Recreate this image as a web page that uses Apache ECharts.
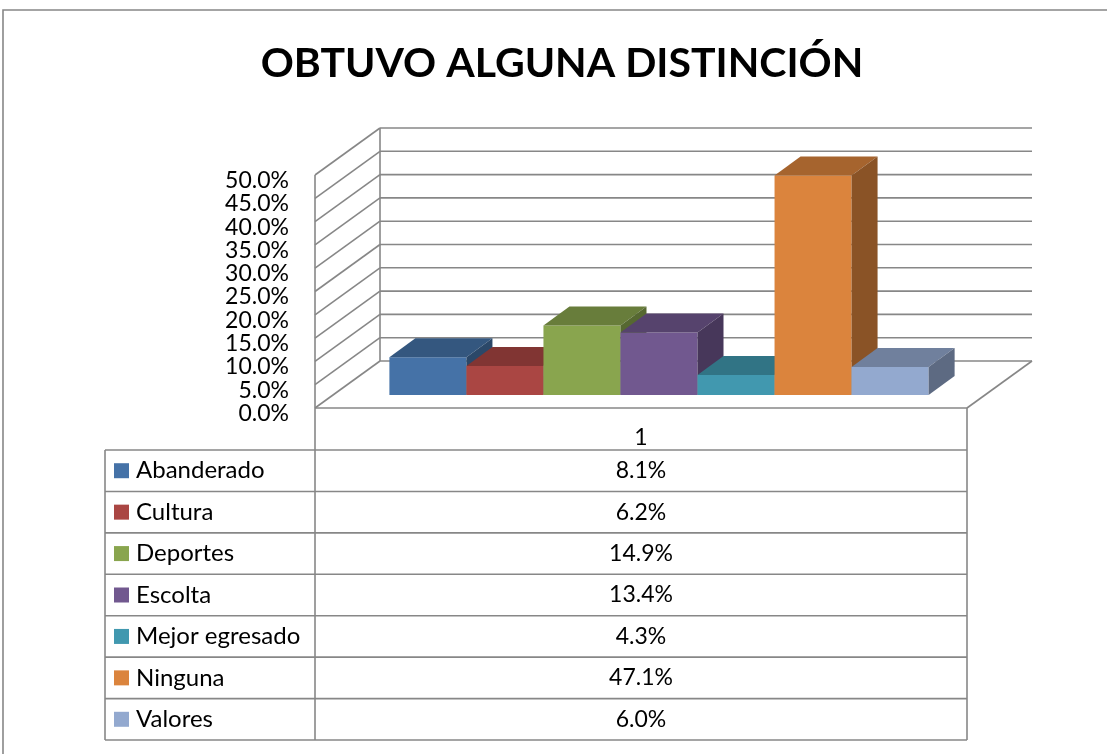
<!DOCTYPE html>
<html>
<head>
<meta charset="utf-8">
<title>Obtuvo alguna distinción</title>
<script src="https://cdn.jsdelivr.net/npm/echarts@6/dist/echarts.min.js"></script>
<style>
  html, body { margin: 0; padding: 0; background: #fff; }
  #main { width: 1107px; height: 754px; }
</style>
</head>
<body>
<div id="main"></div>
<script>
// datos del gráfico
const xLabels = ['1'];
const categories = ['Abanderado', 'Cultura', 'Deportes', 'Escolta', 'Mejor egresado', 'Ninguna', 'Valores'];
const values = [0.081, 0.062, 0.149, 0.134, 0.043, 0.471, 0.060];
const colors = ['#4572A7', '#AA4643', '#89A54E', '#71588F', '#4198AF', '#DB843D', '#93A9CF'];
const yTicks = [0, 0.05, 0.10, 0.15, 0.20, 0.25, 0.30, 0.35, 0.40, 0.45, 0.50];

// geometría (pseudo 3D)
const GRID = { left: 315, right: 140, top: 175, bottom: 346 };
const WALL_DX = 65, WALL_DY = -47;   // profundidad de las paredes
const BAR_FX = 18, BAR_FY = -13;     // desplazamiento de la cara frontal de las barras
const BAR_DX = 26, BAR_DY = -19;     // profundidad de las barras
const GROUP_RATIO = 0.827;
const LINE = '#878787';

function shade(hex, f) {
    const n = parseInt(hex.slice(1), 16);
    const r = Math.round(((n >> 16) & 255) * f);
    const g = Math.round(((n >> 8) & 255) * f);
    const b = Math.round((n & 255) * f);
    return 'rgb(' + r + ',' + g + ',' + b + ')';
}

function seg(x1, y1, x2, y2) {
    return { type: 'line', shape: { x1: x1, y1: y1, x2: x2, y2: y2 },
             style: { stroke: LINE, lineWidth: 1.6 } };
}

// paredes y piso
const wallSeries = {
    type: 'custom',
    silent: true,
    z: 1,
    data: yTicks.map(v => [0, v]),
    encode: { x: 0, y: 1 },
    renderItem: function(params, api) {
        const cs = params.coordSys;
        const v = api.value(1);
        const y = api.coord([0, v])[1];
        const children = [
            seg(cs.x, y, cs.x + WALL_DX, y + WALL_DY),
            seg(cs.x + WALL_DX, y + WALL_DY, cs.x + cs.width + WALL_DX, y + WALL_DY)
        ];
        if (params.dataIndex === 0) {
            children.push(seg(cs.x, y, cs.x + cs.width, y));
            children.push(seg(cs.x + cs.width, y, cs.x + cs.width + WALL_DX, y + WALL_DY));
            children.push(seg(cs.x, cs.y, cs.x, y));
            children.push(seg(cs.x + WALL_DX, cs.y + WALL_DY, cs.x + WALL_DX, y + WALL_DY));
        }
        return { type: 'group', children: children };
    }
};

function makeBar(i) {
    return {
        type: 'custom',
        name: categories[i],
        z: 2,
        data: [[0, values[i]]],
        encode: { x: 0, y: 1 },
        itemStyle: { color: colors[i] },
        renderItem: function(params, api) {
            const base = api.coord([0, 0]);
            const top = api.coord([0, api.value(1)]);
            const total = api.size([1, 0])[0] * GROUP_RATIO;
            const bw = total / categories.length;
            const x0 = base[0] - total / 2 + i * bw + BAR_FX;
            const x1 = x0 + bw;
            const yb = base[1] + BAR_FY;
            const yt = top[1] + BAR_FY;
            return {
                type: 'group',
                children: [
                    { type: 'rect', shape: { x: x0, y: yt, width: bw, height: yb - yt },
                      style: { fill: colors[i] } },
                    { type: 'polygon',
                      shape: { points: [[x0, yt], [x1, yt], [x1 + BAR_DX, yt + BAR_DY], [x0 + BAR_DX, yt + BAR_DY]] },
                      style: { fill: shade(colors[i], 0.76) } },
                    { type: 'polygon',
                      shape: { points: [[x1, yt], [x1 + BAR_DX, yt + BAR_DY], [x1 + BAR_DX, yb + BAR_DY], [x1, yb]] },
                      style: { fill: shade(colors[i], 0.63) } }
                ]
            };
        }
    };
}

// tabla de datos
const TABLE_LEFT = 105, TABLE_TOP = 450, ROW_H = 41.43;
const COL_X = GRID.left, TABLE_RIGHT = 1107 - GRID.right;
const FLOOR_Y = 754 - GRID.bottom;

function tableGraphics() {
    const els = [];
    const bottom = TABLE_TOP + ROW_H * categories.length;
    for (let k = 0; k <= categories.length; k++) {
        const y = TABLE_TOP + k * ROW_H;
        els.push({ type: 'line', shape: { x1: TABLE_LEFT, y1: y, x2: TABLE_RIGHT, y2: y },
                   style: { stroke: LINE, lineWidth: 1.6 } });
    }
    els.push({ type: 'line', shape: { x1: TABLE_LEFT, y1: TABLE_TOP, x2: TABLE_LEFT, y2: bottom },
               style: { stroke: LINE, lineWidth: 1.6 } });
    els.push({ type: 'line', shape: { x1: COL_X, y1: FLOOR_Y, x2: COL_X, y2: bottom },
               style: { stroke: LINE, lineWidth: 1.6 } });
    els.push({ type: 'line', shape: { x1: TABLE_RIGHT, y1: FLOOR_Y, x2: TABLE_RIGHT, y2: bottom },
               style: { stroke: LINE, lineWidth: 1.6 } });
    categories.forEach(function(name, k) {
        const cy = TABLE_TOP + k * ROW_H + ROW_H / 2;
        els.push({ type: 'rect', shape: { x: 114, y: cy - 7.5, width: 15, height: 15 },
                   style: { fill: colors[k] } });
        els.push({ type: 'text', x: 136, y: cy,
                   style: { text: name, font: '24px Lato', fill: '#000', textVerticalAlign: 'middle' } });
        els.push({ type: 'text', x: (COL_X + TABLE_RIGHT) / 2, y: cy,
                   style: { text: (values[k] * 100).toFixed(1) + '%', font: '23px Lato', fill: '#000',
                            textAlign: 'center', textVerticalAlign: 'middle' } });
    });
    // marco exterior
    els.push({ type: 'rect', shape: { x: 3, y: 10, width: 1130, height: 780 },
               style: { fill: 'none', stroke: LINE, lineWidth: 1.6 }, z: 0 });
    return els;
}

const chart = echarts.init(document.getElementById('main'));
chart.setOption({
    backgroundColor: '#fff',
    animation: false,
    title: {
        text: 'OBTUVO ALGUNA DISTINCIÓN',
        left: 557,
        textAlign: 'center',
        top: 38,
        textStyle: { fontFamily: 'Lato', fontWeight: 'bold', fontSize: 41, color: '#000' }
    },
    grid: GRID,
    xAxis: {
        type: 'category',
        data: xLabels,
        axisLine: { show: false },
        axisTick: { show: false },
        axisLabel: { margin: 18, fontFamily: 'Lato', fontSize: 23, color: '#000' }
    },
    yAxis: {
        type: 'value',
        min: 0,
        max: 0.5,
        interval: 0.05,
        axisLine: { show: false },
        axisTick: { show: false },
        splitLine: { show: false },
        axisLabel: {
            margin: 26,
            fontFamily: 'Lato',
            fontSize: 23,
            color: '#000',
            verticalAlign: 'top',
            padding: [-6, 0, 0, 0],
            formatter: v => (v * 100).toFixed(1) + '%'
        }
    },
    graphic: tableGraphics(),
    series: [wallSeries].concat(categories.map((c, i) => makeBar(i)))
});
</script>
</body>
</html>
